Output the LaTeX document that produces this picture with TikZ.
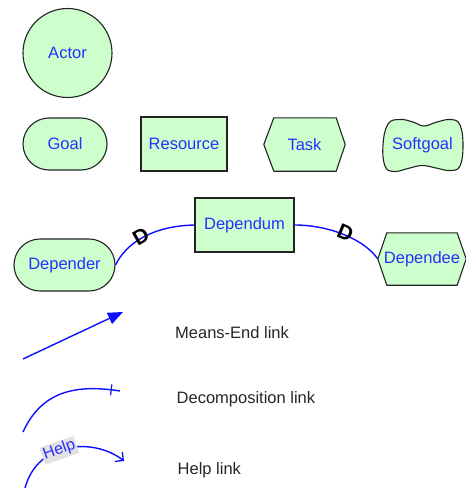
\documentclass[tikz,border=0pt]{standalone}
\usepackage{fontspec}
\setmainfont{Liberation Sans}
\usetikzlibrary{shapes.misc,arrows.meta,backgrounds}
\definecolor{leaf}{RGB}{204,255,204}
\definecolor{ink}{RGB}{45,45,255}
\definecolor{rim}{RGB}{35,35,35}
\definecolor{linkblue}{RGB}{15,15,255}
\definecolor{tag}{RGB}{226,226,226}

\begin{document}
\begin{tikzpicture}[x=1pt,y=-1pt,
  txt/.style={font=\fontsize{16.5}{18}\selectfont},
  elem/.style={txt, draw=rim, fill=leaf, text=ink, line width=1.1pt, inner sep=0pt},
  bare/.style={txt, text=ink, inner sep=0pt},
  rimline/.style={draw=rim, fill=leaf, line width=1.1pt, line join=round},
  linkline/.style={draw=linkblue, line width=1.4pt},
  dmark/.style={sloped, above=-6pt, inner sep=0pt, text=black,
    font=\bfseries\fontsize{21}{21}\selectfont},
  tickmark/.style={sloped, draw=linkblue, line width=1.2pt, inner sep=0pt,
    minimum width=0pt, minimum height=11pt},
  helptag/.style={sloped, fill=tag, text=ink, inner sep=1.5pt,
    font=\fontsize{16}{16}\selectfont},
  legend/.style={txt, text=black!85, anchor=west, inner sep=0pt}]
\useasboundingbox (0,0) rectangle (466,488);

% element shapes
\node[elem, circle, minimum size=89pt] (actor) at (67.5,53) {Actor};
\node[elem, rounded rectangle, minimum width=84pt, minimum height=52pt] (goal) at (65,144) {Goal};
\node[elem, rectangle, minimum width=86pt, minimum height=54pt] (resource) at (184,144) {Resource};
\node[bare, minimum width=81pt, minimum height=53pt] (task) at (304.5,144.5) {Task};
\node[bare, minimum width=81pt, minimum height=50pt] (softgoal) at (422.5,145.5) {Softgoal};

\begin{scope}[on background layer]
  \draw[rimline] (task.west) -- ([xshift=10pt]task.north west) -- ([xshift=-9pt]task.north east)
    -- (task.east) -- ([xshift=-9pt]task.south east) -- ([xshift=10pt]task.south west) -- cycle;
  \draw[rimline] plot[smooth cycle, tension=0.7] coordinates {
    (388,124) (400,119.5) (413,122) (424,126) (437,122) (451,119.5) (460,125)
    (463,145) (460,166) (450,170.5) (436,168) (422,165.5) (408,168.5) (394,171.5)
    (385,166) (383,145)};
\end{scope}

% dependency
\node[elem, rounded rectangle, minimum width=101pt, minimum height=52pt] (depender) at (64.5,265) {Depender};
\node[elem, rectangle, minimum width=99pt, minimum height=54pt] (dependum) at (244.5,225) {Dependum};
\node[bare, minimum width=88pt, minimum height=52pt] (dependee) at (422,259) {Dependee};
\begin{scope}[on background layer]
  \draw[rimline] (dependee.west) -- ([xshift=9pt]dependee.north west) -- ([xshift=-9pt]dependee.north east)
    -- (dependee.east) -- ([xshift=-9pt]dependee.south east) -- ([xshift=9pt]dependee.south west) -- cycle;
\end{scope}

\draw[linkline] (depender.east) .. controls (125,245) and (150,226) .. node[dmark, pos=0.5] (d1) {D} (dependum.west);
\draw[linkline] (dependum.east) .. controls (330,225) and (365,240) .. node[dmark, pos=0.5] (d2) {D} (dependee.west);

% links
\coordinate (me0) at (23,359);
\coordinate (me1) at (123,312);
\draw[linkline, -{Triangle[length=15pt,width=12pt]}] (me0) -- (me1);
\node[legend] (melabel) at (175,333) {Means-End link};

\coordinate (dc0) at (23,432);
\coordinate (dc1) at (120,391);
\draw[linkline] (dc0) .. controls (40,395) and (70,383) .. node[tickmark, pos=0.94] (dctick) {} (dc1);
\node[legend] (dclabel) at (176.5,399) {Decomposition link};

\coordinate (hp0) at (25,488);
\coordinate (hp1) at (124,461);
\draw[linkline, -{Straight Barb[length=6pt,width=12pt,line width=1.3pt]}] (hp0) .. controls (38,440) and (95,438) .. node[helptag, pos=0.42] (helptag) {Help} (hp1);
\node[legend] (hplabel) at (177.5,470) {Help link};
\end{tikzpicture}
\end{document}
